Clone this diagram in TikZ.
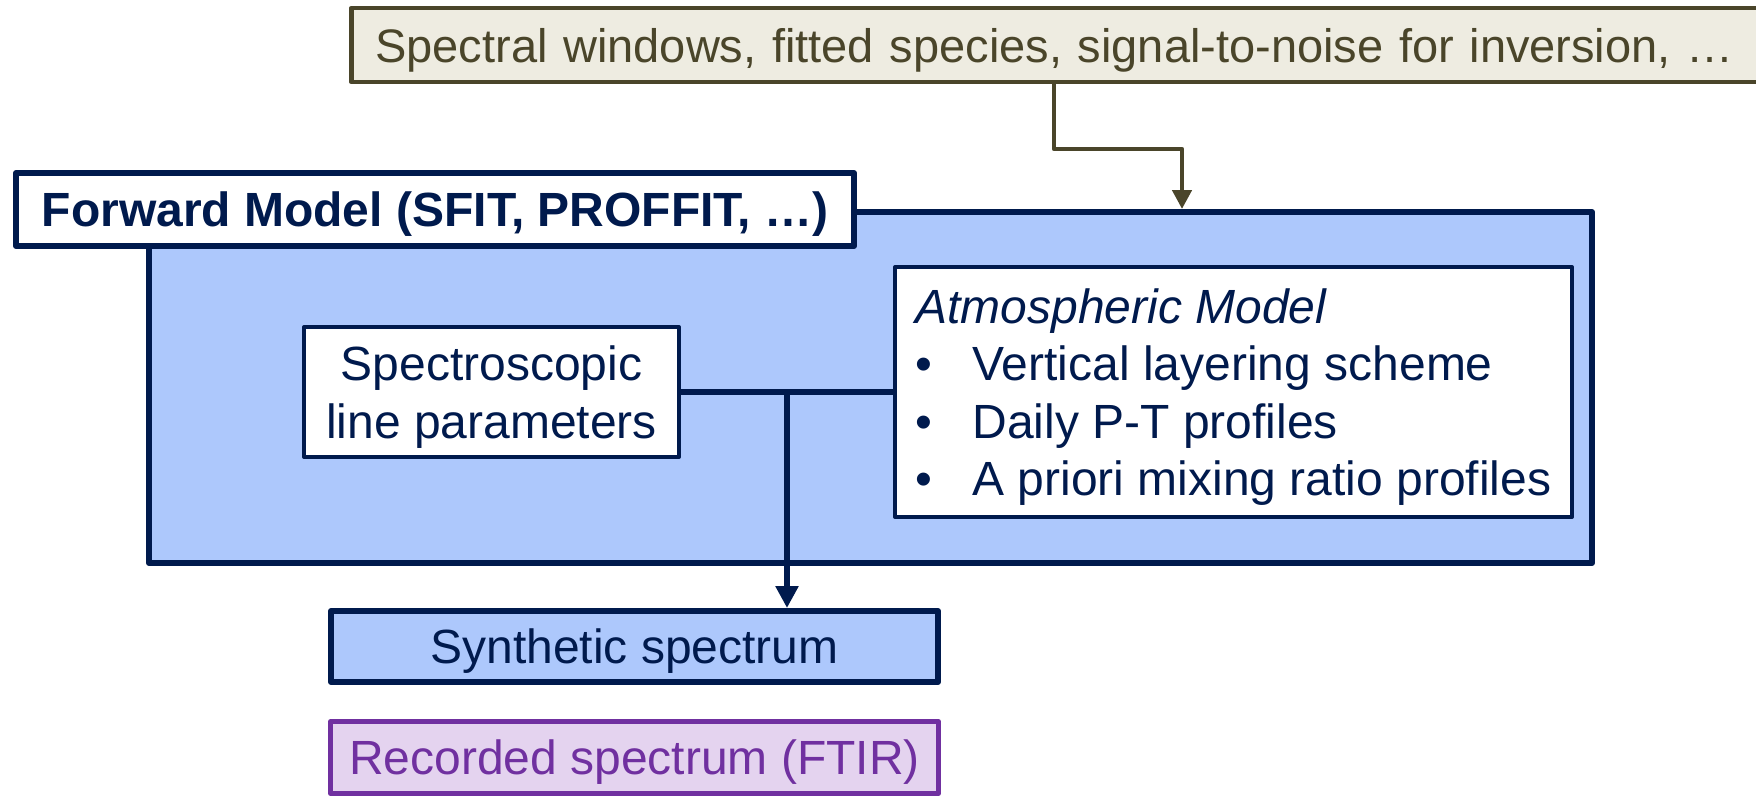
\documentclass[tikz,border=0pt]{standalone}
\usepackage{fontspec}
\setmainfont{Liberation Sans}
\usetikzlibrary{arrows.meta}
\definecolor{navy}{HTML}{001A4D}
\definecolor{bluefill}{HTML}{ADC8FC}
\definecolor{tanfill}{HTML}{EEECE1}
\definecolor{olive}{HTML}{4A452A}
\definecolor{purp}{HTML}{7030A0}
\definecolor{purpfill}{HTML}{E4D3EF}
\begin{document}
\begin{tikzpicture}[x=1pt,y=-1pt,
  font=\fontsize{48}{57.6}\selectfont,
  box/.style={draw, rectangle, inner sep=0pt, line join=round, text depth=-4pt},
  navybox/.style={box, draw=navy, text=navy, line width=6pt},
  innerbox/.style={navybox, line width=4pt, fill=white},
  navyline/.style={draw=navy, line width=6pt},
  oliveline/.style={draw=olive, line width=4.5pt, line join=round},
  navytip/.style={-{Triangle[length=22pt,width=22pt]}},
  olivetip/.style={-{Triangle[length=19pt,width=19pt]}}]
\useasboundingbox (0,0) rectangle (1756,796);
% main forward model box
\node[navybox, fill=bluefill, minimum width=1443pt, minimum height=351pt] (big) at (870.5,387.5) {};
\node[navybox, fill=white, minimum width=838pt, minimum height=73pt] (fm) at (435,209.5) {\bfseries Forward Model (SFIT, PROFFIT, …)};
\node[innerbox, minimum width=375pt, minimum height=130pt, align=center] (spec) at (491.5,392) {Spectroscopic\\line parameters};
\node[innerbox, minimum width=677pt, minimum height=250pt, align=left] (atm) at (1233.5,392)
  {\textit{Atmospheric Model}\\
   \makebox[57pt][l]{\textbullet}Vertical layering scheme\\
   \makebox[57pt][l]{\textbullet}Daily P-T profiles\\
   \makebox[57pt][l]{\textbullet}A priori mixing ratio profiles};
% top input box
\node[box, draw=olive, text=olive, fill=tanfill, line width=4.5pt, minimum height=74pt, text width=1403pt, inner xsep=24pt, align=left, anchor=west,
  font=\fontsize{47}{56.4}\selectfont] (top) at (349,45)
  {Spectral windows, fitted species, signal-to-noise for inversion, …};
% output boxes
\node[navybox, fill=bluefill, minimum width=607pt, minimum height=71pt] (syn) at (634.5,646.5) {Synthetic spectrum};
\node[box, draw=purp, text=purp, fill=purpfill, line width=4.5pt, minimum width=608pt, minimum height=72pt] (rec) at (634.5,757.5) {Recorded spectrum (FTIR)};
% connectors
\coordinate (j) at (787,392);
\coordinate (c1) at (1054,149);
\coordinate (c2) at (1182,149);
\draw[navyline] (spec.east) -- (atm.west);
\draw[navyline, navytip] (j) -- (j |- syn.north);
\draw[oliveline, olivetip] (top.south -| c1) -- (c1) -- (c2) -- (c2 |- big.north);
\end{tikzpicture}
\end{document}
